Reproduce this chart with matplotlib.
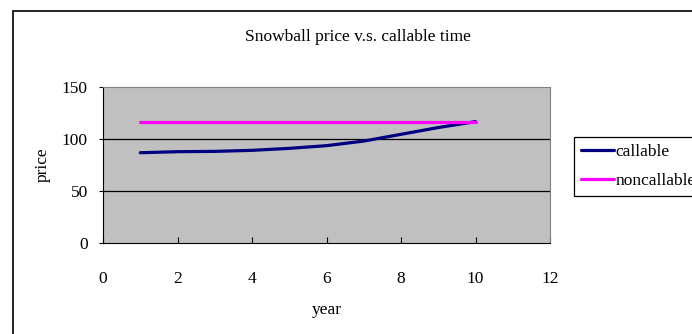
import matplotlib.pyplot as plt
from matplotlib.patches import Rectangle

# Snowball price by callable time
years = [1, 2, 3, 4, 5, 6, 7, 8, 9, 10]
callable_price = [86.8, 87.8, 88.1, 89.1, 91.0, 93.6, 98.0, 104.5, 111.0, 116.7]
noncallable_price = [116.7] * 10

plt.rcParams['font.family'] = ['Liberation Serif', 'DejaVu Serif']
plt.rcParams['font.size'] = 12

fig = plt.figure(figsize=(6.92, 3.34), dpi=100)
W, H = 692, 334

# outer chart frame
fig.patches.append(Rectangle((13 / W, -0.1), 1.0, 1 - 10.7 / H + 0.1,
                             transform=fig.transFigure, fill=False,
                             edgecolor='black', linewidth=1.2))

ax = fig.add_axes([103 / W, 1 - 243 / H, (550 - 103) / W, (243 - 87) / H])
ax.set_facecolor('#C0C0C0')

ax.plot(years, callable_price, color='#000080', linewidth=2.3,
        solid_capstyle='round', label='callable')
ax.plot(years, noncallable_price, color='#FF00FF', linewidth=2.3,
        solid_capstyle='round', label='noncallable')

ax.set_xlim(0, 12)
ax.set_ylim(0, 150)
ax.set_xticks(range(0, 13, 2))
ax.set_yticks([0, 50, 100, 150])

for yv in [50, 100]:
    ax.axhline(yv, color='black', linewidth=0.9, zorder=1)

ax.spines['left'].set_color('black')
ax.spines['bottom'].set_color('black')
ax.spines['top'].set_color('#808080')
ax.spines['right'].set_color('#808080')

ax.tick_params(axis='x', direction='in', length=4, pad=20, labelsize=12.5)
ax.tick_params(axis='y', direction='out', length=3, pad=8, labelsize=12.5)

ax.set_xlabel('year', fontsize=12.5, labelpad=11)
ax.set_ylabel('price', fontsize=12.5, labelpad=8)

fig.text(358 / W, 1 - 37 / H, 'Snowball price v.s. callable time',
         ha='center', va='center', fontsize=12.5)

leg = ax.legend(loc='upper left', bbox_to_anchor=(574 / W, 1 - 137 / H),
                bbox_transform=fig.transFigure, frameon=True, fancybox=False,
                edgecolor='black', framealpha=1, fontsize=12.5,
                handlelength=1.9, handletextpad=0.1, borderpad=0.4,
                borderaxespad=0, labelspacing=0.75)
leg.get_frame().set_linewidth(0.9)

fig.savefig('out.png', dpi=100)
